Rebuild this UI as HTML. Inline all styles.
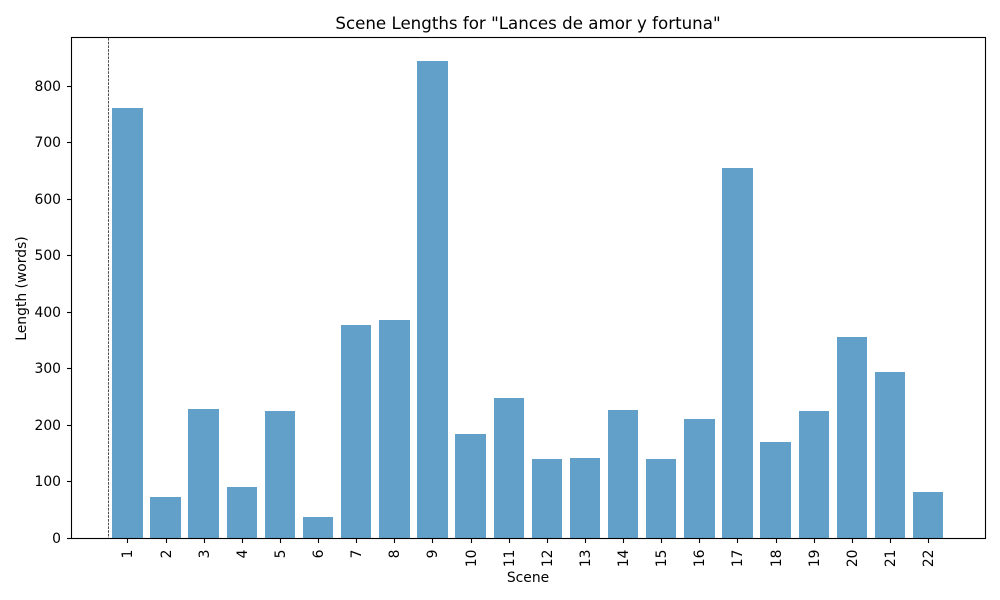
<!DOCTYPE html>
<html lang="en">
<head>
<meta charset="utf-8">
<title>Scene Lengths</title>
<style>
html,body{margin:0;padding:0;background:#fff;width:1000px;height:600px;overflow:hidden}
svg{display:block}
text{font-family:"DejaVu Sans",sans-serif;fill:#000}
</style>
</head>
<body>
<svg id="chart" xmlns="http://www.w3.org/2000/svg" width="1000" height="600" viewBox="0 0 1000 600">
  <text x="528" y="29" font-size="16.67" text-anchor="middle">Scene Lengths for "Lances de amor y fortuna"</text>
  <g id="bars"></g>
  <g id="marker"></g>
  <g id="xticks"></g>
  <g id="yticks"></g>
  <rect x="71.5" y="37.5" width="914" height="501" fill="none" stroke="#000" stroke-width="1.1"></rect>
  <text x="528" y="582" font-size="13.89" text-anchor="middle">Scene</text>
  <text transform="translate(26,288.5) rotate(-90)" font-size="13.89" text-anchor="middle">Length (words)</text>
</svg>
<script>
const scenes = [1,2,3,4,5,6,7,8,9,10,11,12,13,14,15,16,17,18,19,20,21,22];
const lengths = [761,72,228,90,225,37,377,386,844,184,248,140,141,226,140,210,655,170,225,356,294,81];
const yTickLabels = [0,100,200,300,400,500,600,700,800];
const markerScene = 0.5;

const SVG_NS = 'http://www.w3.org/2000/svg';
const xScale = v => 127.4 + (v - 1) * 38.13;
const yScale = v => 538.1 - v * 0.565;
const barWidth = 0.797;
const snapX = v => Math.floor(xScale(v) + 0.5) + 0.5;
const snapY = v => Math.floor(yScale(v)) + 0.5;

function make(tag, attrs, parent) {
  const el = document.createElementNS(SVG_NS, tag);
  for (const k in attrs) el.setAttribute(k, attrs[k]);
  parent.appendChild(el);
  return el;
}

const barsG = document.getElementById('bars');
const xG = document.getElementById('xticks');
const yG = document.getElementById('yticks');
const markerG = document.getElementById('marker');

scenes.forEach((s, i) => {
  const left = Math.round(xScale(s - barWidth / 2));
  const right = Math.round(xScale(s + barWidth / 2));
  const top = Math.round(yScale(lengths[i]));
  const bottom = Math.round(yScale(0));
  const bar = make('rect', {x: left, y: top, width: right - left, height: bottom - top, fill: '#1f77b4', 'fill-opacity': 0.7, 'shape-rendering': 'crispEdges'}, barsG);
  
  

  const cx = snapX(s);
  const tick = make('line', {x1: cx, x2: cx, y1: 538.5, y2: 543, stroke: '#000', 'stroke-width': 1.1}, xG);
  
  

  const label = make('text', {transform: 'translate(' + (cx + 4.5) + ',549.5) rotate(-90)', 'font-size': 13.89, 'text-anchor': 'end'}, xG);
  label.textContent = s;
  
  
});

yTickLabels.forEach(v => {
  const cy = snapY(v);
  const tick = make('line', {x1: 67, x2: 71.5, y1: cy, y2: cy, stroke: '#000', 'stroke-width': 1.1}, yG);
  
  

  const label = make('text', {x: 61, y: cy + 4.5, 'font-size': 13.89, 'text-anchor': 'end'}, yG);
  label.textContent = v;
  
  
});

const mx = snapX(markerScene);
const markerLine = make('line', {x1: mx, x2: mx, y1: 38, y2: 538, stroke: '#000', 'stroke-width': 0.7, 'stroke-dasharray': '2.6 1.1'}, markerG);


</script>
</body>
</html>
